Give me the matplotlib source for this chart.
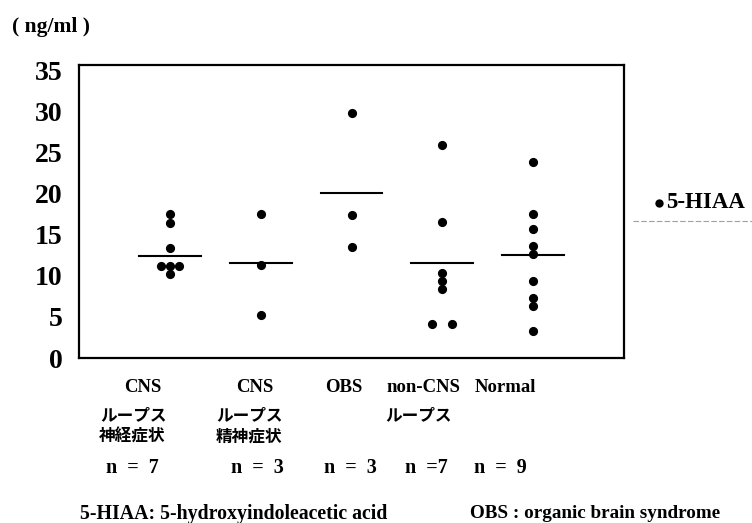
import matplotlib
matplotlib.use("Agg")
import matplotlib.pyplot as plt
from matplotlib.lines import Line2D

# ---- data ----
top_labels = ["CNS", "CNS", "OBS", "non-CNS", "Normal"]
jp_row1 = ["ループス", "ループス", "", "ループス", ""]
jp_row2 = ["神経症状", "精神症状", "", "", ""]
n_labels = ["n  =  7", "n  =  3", "n  =  3", "n  =7", "n  =  9"]

cns_neuro = [17.5, 16.5, 13.4, 11.2, 11.2, 11.2, 10.2]
cns_psych = [17.5, 11.3, 5.3]
obs = [29.8, 17.4, 13.5]
non_cns = [25.9, 16.6, 10.4, 9.4, 8.4, 4.2, 4.2]
normal = [23.9, 17.6, 15.7, 13.6, 12.7, 9.4, 7.3, 6.3, 3.3]
group_means = [12.4, 11.6, 20.1, 11.6, 12.6]
yticks = [0, 5, 10, 15, 20, 25, 30, 35]

groups = [cns_neuro, cns_psych, obs, non_cns, normal]
# horizontal spread of overlapping dots (layout only)
offsets = [
    [0, 0, 0, -0.1, 0, 0.1, 0],
    [0, 0, 0],
    [0, 0, 0],
    [0, 0, 0, 0, 0, -0.11, 0.11],
    [0] * 9,
]

W, H = 752, 523
fig = plt.figure(figsize=(W / 100, H / 100), dpi=100)
ax = fig.add_axes([79 / W, 1 - 358 / H, (624 - 79) / W, (358 - 65) / H])

serif = ["Liberation Serif", "DejaVu Serif"]
jp = ["Noto Sans CJK JP", "DejaVu Sans"]

for i, (vals, offs) in enumerate(zip(groups, offsets)):
    xs = [i + 1 + o for o in offs]
    ax.plot(xs, vals, "o", color="black", markersize=6.6, markeredgewidth=0)
    ax.plot([i + 1 - 0.34, i + 1 + 0.34], [group_means[i]] * 2, color="black", lw=1.5)

ax.set_xlim(0, 6)
ax.set_ylim(0, 35.7)
ax.set_xticks([])
ax.set_yticks(yticks)
ax.set_yticklabels([str(t) for t in yticks], family=serif, fontweight="bold", fontsize=20)
ax.tick_params(axis="y", length=0, pad=12)
for s in ax.spines.values():
    s.set_linewidth(1.6)
    s.set_color("black")

# unit label
fig.text(12 / W, 1 - 27 / H, "( ng/ml )", family=serif, fontweight="bold", fontsize=15.5,
         ha="left", va="center")

# category labels
col_top = [143, 255, 344, 423, 505]
col_jp1 = [134, 250, 0, 419, 0]
col_jp2 = [132, 249, 0, 0, 0]
col_n = [132, 257, 350, 426, 500]
for i in range(5):
    fig.text(col_top[i] / W, 1 - 387 / H, top_labels[i], family=serif, fontweight="bold",
             fontsize=13.5, ha="center", va="center")
    if jp_row1[i]:
        fig.text(col_jp1[i] / W, 1 - 415 / H, jp_row1[i], family=jp, fontweight="bold",
                 fontsize=12, ha="center", va="center")
    if jp_row2[i]:
        fig.text(col_jp2[i] / W, 1 - 437 / H, jp_row2[i], family=jp, fontweight="bold",
                 fontsize=12, ha="center", va="center")
    fig.text(col_n[i] / W, 1 - 468 / H, n_labels[i], family=serif, fontweight="bold",
             fontsize=14.5, ha="center", va="center")

# legend
fig.add_artist(Line2D([659 / W], [1 - 203 / H], marker="o", color="black",
                      markersize=6, markeredgewidth=0, transform=fig.transFigure))
fig.text(666 / W, 1 - 203 / H, "5-HIAA", family=serif, fontweight="bold", fontsize=16.5,
         ha="left", va="center")
fig.add_artist(Line2D([633 / W, 752 / W], [1 - 221 / H] * 2, color="#a0a0a0", lw=0.8,
                      linestyle=(0, (5, 2)), transform=fig.transFigure))

# footnotes
fig.text(80 / W, 1 - 514 / H, "5-HIAA: 5-hydroxyindoleacetic acid", family=serif,
         fontweight="bold", fontsize=14.3, ha="left", va="center")
fig.text(470 / W, 1 - 514 / H, "OBS : organic brain syndrome", family=serif,
         fontweight="bold", fontsize=13.8, ha="left", va="center")

fig.savefig("out.png", dpi=100, facecolor="white")
